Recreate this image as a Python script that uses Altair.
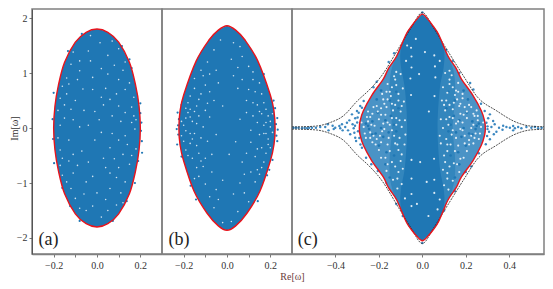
import altair as alt
import pandas as pd

SERIF = "Liberation Serif"
BLUE = "#1f77b4"

# Boundary curves: rows run from the top tip to the bottom tip
a_y = [1.80, 1.74, 1.56, 1.19, 0.78, 0.40, 0.0, -0.40, -0.78, -1.19, -1.56, -1.74, -1.80]
a_r = [0.0, 0.05, 0.10, 0.15, 0.178, 0.194, 0.20, 0.194, 0.178, 0.15, 0.10, 0.05, 0.0]

b_y = [1.86, 1.78, 1.60, 1.22, 0.60, 0.30, 0.0, -0.30, -0.60, -1.15, -1.55, -1.78, -1.86]
b_r = [0.0, 0.04, 0.083, 0.142, 0.20, 0.217, 0.222, 0.217, 0.20, 0.152, 0.092, 0.04, 0.0]

c_y = [2.07, 1.98, 1.85, 1.70, 1.31, 1.09, 0.89, 0.60, 0.31, 0.12, 0.0,
       -0.12, -0.31, -0.60, -0.89, -1.09, -1.31, -1.70, -1.85, -1.97, -2.05]
c_r = [0.0, 0.025, 0.05, 0.075, 0.118, 0.155, 0.18, 0.232, 0.272, 0.287, 0.29,
       0.287, 0.272, 0.232, 0.18, 0.155, 0.118, 0.075, 0.05, 0.025, 0.0]

mid_y = [2.07, 1.85, 1.70, 1.31, 1.09, 0.85, 0.50, 0.0, -0.50, -0.85, -1.09, -1.31, -1.70, -1.85, -2.05]
mid_r = [0.0, 0.05, 0.075, 0.118, 0.14, 0.15, 0.15, 0.14, 0.15, 0.15, 0.14, 0.118, 0.075, 0.05, 0.0]

core_y = [2.07, 1.85, 1.70, 1.40, 1.10, 0.70, 0.0, -0.70, -1.10, -1.40, -1.70, -1.85, -2.05]
core_r = [0.0, 0.05, 0.075, 0.10, 0.098, 0.08, 0.07, 0.08, 0.098, 0.10, 0.075, 0.05, 0.0]

env_x = [-0.60, -0.56, -0.487, -0.424, -0.364, -0.30, -0.24, -0.195, -0.103, -0.05, 0.0,
         0.05, 0.103, 0.195, 0.25, 0.343, 0.435, 0.496, 0.55, 0.60]
env_y = [0.02, 0.022, 0.036, 0.10, 0.22, 0.49, 0.71, 0.91, 1.49, 1.83, 2.10,
         1.83, 1.49, 0.91, 0.58, 0.31, 0.10, 0.036, 0.024, 0.02]

# Points sitting on or beyond the boundary
a_out = [(-0.20, 0.64), (-0.134, 1.40), (0.20, 0.27), (0.16, 1.09), (0.115, 1.49), (0.207, -0.24),
         (-0.205, 0.16), (-0.198, -0.64), (0.19, -0.60), (-0.16, -1.09), (-0.124, -1.42),
         (-0.08, -1.69), (0.073, -1.69), (0.137, -1.33), (0.175, -1.00), (0.205, 0.10),
         (0.203, -0.05), (-0.203, -0.20), (0.208, -0.45), (-0.07, 1.71), (0.15, 1.25), (0.20, 0.45)]
b_out = [(-0.228, 0.28), (-0.222, 0.16), (-0.226, 0.05), (-0.232, -0.02), (-0.225, -0.12),
         (-0.23, -0.30), (-0.21, 0.42), (0.222, 0.36), (0.232, 0.18), (0.226, 0.07), (0.234, -0.03),
         (0.228, -0.14), (0.232, -0.24), (0.215, 0.50), (0.21, -0.58), (0.195, -0.76),
         (-0.168, -1.05), (-0.143, -1.30), (0.142, -1.33), (0.185, -0.86), (-0.21, -0.52), (0.17, 0.98)]
c_out = [(-0.593, 0.006), (-0.582, 0.006), (-0.57, 0.006), (-0.554, -0.006), (-0.542, 0.006),
         (-0.531, -0.006), (-0.521, 0.006), (-0.508, 0.006), (-0.49, 0.006), (-0.47, 0.018),
         (-0.447, 0.018), (-0.435, 0.067), (-0.432, -0.043), (-0.413, 0.042), (-0.408, -0.018),
         (-0.401, 0.006), (-0.382, 0.036), (-0.378, -0.006), (-0.37, 0.067), (-0.367, -0.043),
         (-0.355, 0.018), (-0.347, 0.097), (-0.342, -0.043), (-0.336, 0.139), (-0.332, -0.115),
         (-0.324, 0.248), (-0.321, 0.067), (-0.316, -0.006), (-0.313, -0.085), (-0.309, 0.176),
         (-0.309, -0.176), (-0.301, 0.309), (-0.305, -0.236), (-0.293, 0.279), (-0.286, 0.40),
         (-0.278, 0.37), (-0.27, 0.491), (-0.278, -0.358), (-0.259, -0.54), (-0.30, 0.10),
         (-0.296, -0.06), (-0.31, 0.04), (-0.298, 0.19), (-0.29, -0.18), (-0.285, -0.30),
         (0.595, 0.006), (0.584, 0.006), (0.564, 0.018), (0.549, 0.006), (0.533, -0.006),
         (0.518, 0.018), (0.502, 0.006), (0.479, 0.018), (0.456, -0.006), (0.441, 0.018),
         (0.426, -0.006), (0.418, 0.036), (0.418, -0.043), (0.403, 0.006), (0.387, 0.018),
         (0.372, 0.042), (0.369, -0.03), (0.353, 0.006), (0.341, -0.067), (0.333, 0.067),
         (0.326, 0.127), (0.329, -0.115), (0.318, 0.018), (0.311, 0.248), (0.311, -0.206),
         (0.303, 0.176), (0.307, -0.067), (0.295, 0.097), (0.298, -0.145), (0.287, 0.309),
         (0.292, -0.297), (0.30, 0.03), (0.30, -0.02), (0.27, 0.44), (0.26, -0.46),
         (0.235, 0.70), (0.22, 0.82), (-0.225, 0.74), (-0.21, 0.84), (-0.155, 1.20), (-0.13, 1.36),
         (0.11, 1.42), (0.14, 1.22), (0.17, 1.0), (-0.165, -1.0), (-0.205, -0.78), (-0.235, -0.66),
         (0.20, -0.80), (0.225, -0.70), (0.15, -1.15), (-0.12, -1.38), (0.10, -1.50), (-0.09, -1.60),
         (0.0, 2.10), (0.0, -2.09)]

# Pale specks inside the clouds
a_gaps = [(-0.065, 0.71), (-0.14, 0.91), (0.014, 1.55), (-0.08, 1.22), (0.05, 1.32), (0.12, 1.05),
          (0.09, 0.62), (-0.02, 0.92), (-0.15, 0.42), (0.16, 0.38), (0.03, 0.42), (-0.11, 0.15),
          (0.11, 0.12), (-0.17, 0.05), (0.175, -0.02), (-0.04, 0.05), (0.07, -0.10), (-0.13, -0.22),
          (0.14, -0.30), (-0.07, -0.42), (0.03, -0.55), (-0.16, -0.55), (0.15, -0.66), (-0.02, -0.88),
          (-0.11, -0.82), (0.09, -0.90), (-0.06, -1.20), (0.04, -1.30), (-0.10, -1.28), (0.11, -1.18),
          (0.02, -1.62), (-0.03, 1.68), (0.10, 1.44), (-0.11, 1.38), (-0.16, 0.76), (0.15, 0.82),
          (0.18, 0.15), (-0.18, -0.18), (0.18, -0.38), (0.07, 0.22), (-0.06, 0.32), (0.01, 0.15),
          (-0.09, -0.68), (0.06, -0.36), (0.12, -0.48), (-0.14, 0.62), (0.02, 1.08), (-0.04, 1.40),
          (0.07, 1.58), (-0.14, -0.98), (0.13, -0.98), (0.05, -1.50), (-0.05, -1.50), (-0.17, -0.40),
          (0.17, 0.56), (-0.01, -0.22), (0.10, 0.40), (-0.10, 0.50), (0.04, 0.72), (0.04, -0.72),
          (-0.12, 1.16), (0.08, 1.14), (-0.03, 1.22), (0.13, 0.70), (-0.09, 0.88), (0.16, 0.10),
          (-0.15, 0.18), (0.10, -0.22), (-0.04, -0.62), (0.16, -0.50), (-0.13, -0.60), (0.06, -1.10),
          (-0.02, -1.42), (0.10, -0.72), (-0.16, -0.86), (0.12, -1.36), (-0.08, -1.46), (0.02, 0.56),
          (-0.18, 0.32), (-0.12, 0.34), (-0.08, 0.02), (0.02, -0.08), (0.13, 0.28), (0.17, 0.22),
          (-0.17, -0.68), (-0.11, -0.48), (0.08, -0.56), (0.13, -0.14), (-0.05, -0.98), (0.06, -0.82),
          (0.10, 0.88), (-0.13, 0.80), (0.05, 0.98), (-0.08, 1.04), (0.13, 1.20), (-0.02, 0.70),
          (0.00, -1.18), (0.09, -1.40), (-0.12, -1.10), (-0.01, 0.30), (0.06, 0.52), (-0.17, 0.54)]
b_gaps = [(-0.18, 0.28), (-0.16, 0.12), (-0.15, -0.10), (-0.19, -0.05), (-0.17, -0.28), (-0.20, 0.05),
          (-0.14, 0.40), (-0.12, 0.62), (-0.15, 0.72), (-0.11, 0.95), (-0.13, -0.46), (-0.16, -0.55),
          (-0.11, -0.70), (-0.13, -0.88), (-0.10, -1.02), (-0.08, -1.25), (-0.06, -1.45), (-0.09, 1.20),
          (-0.06, 1.42), (-0.03, 1.60), (0.03, 1.55), (0.07, 1.30), (0.10, 1.12), (0.12, 0.88),
          (0.16, 0.62), (0.14, 0.42), (0.18, 0.34), (0.20, 0.12), (0.17, 0.05), (0.15, -0.12),
          (0.19, -0.20), (0.16, -0.36), (0.13, -0.52), (0.17, -0.62), (0.11, -0.80), (0.13, -0.98),
          (0.08, -1.18), (0.10, -1.34), (0.05, -1.52), (0.02, -1.70), (-0.02, -1.72), (-0.08, 0.20),
          (-0.05, -0.12), (0.06, 0.16), (0.04, -0.25), (-0.09, 0.45), (0.09, 0.50), (-0.04, 0.82),
          (0.03, 0.95), (-0.07, -0.48), (0.07, -0.62), (-0.02, -0.95), (0.02, 1.25), (-0.02, 0.40),
          (-0.11, 0.02), (0.11, -0.04), (-0.18, 0.46), (0.18, -0.46), (-0.07, -0.80), (-0.19, 0.18),
          (0.19, 0.22), (-0.17, 0.58), (0.15, 0.82), (-0.14, -0.72), (0.09, 0.28), (-0.12, -0.18),
          (0.12, 0.22), (0.13, 0.66), (-0.10, 0.78), (0.05, 0.72), (-0.05, 1.05), (0.06, -1.00),
          (-0.05, -1.12), (0.01, -0.48), (0.14, -0.76), (-0.15, 0.90), (0.21, -0.08), (-0.21, -0.14),
          (0.12, 1.02), (-0.12, 1.05), (-0.19, -0.40), (0.20, -0.36), (-0.17, 0.34), (-0.21, 0.12),
          (-0.14, 0.08), (-0.16, -0.20), (0.14, 0.10), (0.17, -0.10), (0.20, 0.02), (0.16, 0.26),
          (-0.19, 0.36), (-0.13, 0.22), (0.19, -0.30), (-0.18, -0.50), (0.15, -0.84), (-0.12, -0.60),
          (-0.20, -0.24), (-0.17, 0.20), (-0.15, 0.30), (-0.13, 0.52), (-0.10, 0.32), (-0.08, 0.66),
          (-0.06, 0.50), (-0.09, -0.24), (-0.14, -0.32), (-0.10, -0.55), (-0.15, -0.92), (0.21, 0.26),
          (0.18, 0.10), (0.15, 0.30), (0.12, 0.46), (0.10, 0.70), (0.07, 0.88), (0.11, -0.26),
          (0.14, -0.38), (0.09, -0.46), (0.18, -0.10), (0.16, -0.72), (0.05, 1.10), (-0.08, 0.98),
          (0.08, -0.84), (-0.04, -1.30), (0.03, -1.20), (0.17, 0.46), (-0.17, -0.10), (0.06, 1.48)]
c_gaps = [(-0.27, 0.02), (-0.25, 0.12), (-0.24, -0.08), (-0.23, 0.26), (-0.22, 0.04), (-0.21, -0.20),
          (-0.20, 0.16), (-0.19, 0.36), (-0.185, -0.06), (-0.17, 0.24), (-0.16, -0.30), (-0.15, 0.06),
          (-0.14, 0.44), (-0.13, -0.14), (-0.12, 0.18), (-0.11, -0.40), (-0.10, 0.30), (-0.095, 0.02),
          (-0.26, -0.18), (-0.25, 0.30), (-0.21, 0.40), (-0.20, -0.40), (-0.18, 0.52), (-0.17, -0.54),
          (-0.15, 0.66), (-0.14, -0.62), (-0.12, 0.78), (-0.11, -0.80), (-0.10, 0.98), (-0.095, -1.02),
          (-0.16, 0.80), (-0.13, 0.94), (-0.165, -0.78), (-0.135, -0.94), (-0.11, 0.62), (-0.10, -0.60),
          (-0.085, 0.48), (-0.082, -0.30), (-0.08, 0.14), (-0.078, -0.12), (-0.09, 0.72), (-0.09, -0.74),
          (-0.055, 0.90), (-0.05, 1.10), (-0.05, 1.30), (-0.052, 1.46), (-0.05, -0.92), (-0.05, -1.20),
          (-0.05, -1.42), (-0.052, 0.60), (-0.05, -0.58), (-0.16, 0.10), (-0.18, 0.08), (-0.135, 0.32),
          (-0.24, 0.20), (-0.23, -0.26), (-0.19, -0.26), (-0.125, -0.28), (-0.145, 0.58), (-0.165, 0.38),
          (-0.105, 0.14), (-0.105, -0.18), (-0.095, 0.40), (-0.095, -0.48), (-0.12, 1.02), (-0.115, -1.10),
          (0.27, 0.02), (0.255, 0.14), (0.245, -0.10), (0.235, 0.26), (0.225, 0.00), (0.215, -0.22),
          (0.205, 0.18), (0.195, 0.38), (0.185, -0.04), (0.175, 0.26), (0.165, -0.32), (0.155, 0.08),
          (0.145, 0.46), (0.135, -0.12), (0.125, 0.20), (0.115, -0.42), (0.105, 0.32), (0.095, 0.00),
          (0.26, -0.20), (0.25, 0.32), (0.215, 0.42), (0.205, -0.42), (0.185, 0.54), (0.175, -0.56),
          (0.155, 0.68), (0.145, -0.64), (0.125, 0.80), (0.115, -0.82), (0.105, 1.00), (0.10, -1.04),
          (0.165, 0.82), (0.135, 0.96), (0.17, -0.80), (0.14, -0.96), (0.115, 0.64), (0.105, -0.62),
          (0.09, 0.50), (0.085, -0.28), (0.085, 0.16), (0.08, -0.14), (0.095, 0.74), (0.095, -0.76),
          (0.06, 0.92), (0.058, 1.12), (0.055, 1.32), (0.055, -0.94), (0.055, -1.18), (0.056, 0.58),
          (0.054, -0.56), (0.165, 0.12), (0.185, 0.10), (0.14, 0.34), (0.24, 0.22), (0.235, -0.28),
          (0.195, -0.28), (0.13, -0.30), (0.15, 0.60), (0.17, 0.40), (0.11, 0.16), (0.11, -0.20),
          (0.10, 0.42), (0.10, -0.50), (0.125, 1.04), (0.12, -1.12), (-0.01, -0.62), (0.02, -0.98),
          (-0.015, 0.98), (0.012, 1.38), (-0.025, -1.38), (0.03, 0.30), (-0.03, 1.62), (0.028, -1.60),
          (-0.075, 1.22), (0.08, 1.22), (-0.08, -1.28), (0.08, -1.30), (-0.07, 1.50), (0.07, -1.48),
          (-0.28, 0.10), (-0.265, -0.10), (-0.255, 0.20), (-0.235, 0.06), (-0.225, 0.38), (-0.225, -0.14),
          (-0.205, 0.30), (-0.195, -0.14), (-0.19, 0.24), (-0.175, -0.02), (-0.175, 0.44), (-0.16, 0.52),
          (-0.155, -0.18), (-0.15, -0.42), (-0.14, 0.18), (-0.14, -0.04), (-0.125, 0.42), (-0.12, 0.06),
          (-0.115, -0.30), (-0.11, 0.50), (-0.185, 0.62), (-0.165, 0.66), (-0.14, 0.74), (-0.125, 0.88),
          (-0.19, -0.54), (-0.16, -0.66), (-0.125, -0.70), (-0.115, -0.92), (-0.215, -0.30), (-0.24, -0.18),
          (0.28, 0.10), (0.265, -0.10), (0.255, 0.22), (0.235, 0.06), (0.225, 0.38), (0.225, -0.14),
          (0.205, 0.30), (0.195, -0.14), (0.19, 0.24), (0.175, -0.02), (0.175, 0.44), (0.16, 0.52),
          (0.155, -0.18), (0.15, -0.42), (0.14, 0.18), (0.14, -0.04), (0.125, 0.42), (0.12, 0.06),
          (0.115, -0.30), (0.11, 0.50), (0.185, 0.62), (0.165, 0.66), (0.14, 0.74), (0.125, 0.88),
          (0.19, -0.54), (0.16, -0.66), (0.125, -0.70), (0.115, -0.92), (0.215, -0.30), (0.24, -0.18)]

# Darker grains inside the pale band of panel (c)
c_dark = [(-0.26, 0.08), (-0.245, -0.02), (-0.23, 0.12), (-0.215, -0.10), (-0.205, 0.28), (-0.19, 0.00),
          (-0.18, -0.16), (-0.17, 0.14), (-0.155, -0.08), (-0.145, 0.22), (-0.13, 0.06), (-0.12, -0.06),
          (-0.11, 0.36), (-0.21, 0.52), (-0.19, 0.68), (-0.17, -0.66), (-0.15, 0.50), (-0.13, -0.50),
          (-0.12, 0.66), (-0.15, -0.90), (-0.23, -0.12), (-0.25, 0.04), (-0.2, -0.32), (-0.165, -0.44),
          (0.26, 0.08), (0.245, -0.02), (0.23, 0.12), (0.215, -0.10), (0.205, 0.28), (0.19, 0.00),
          (0.18, -0.16), (0.17, 0.14), (0.155, -0.08), (0.145, 0.22), (0.13, 0.06), (0.12, -0.06),
          (0.11, 0.36), (0.21, 0.52), (0.19, 0.68), (0.17, -0.66), (0.15, 0.50), (0.13, -0.50),
          (0.12, 0.66), (0.15, -0.90), (0.23, -0.12), (0.25, 0.04), (0.2, -0.32), (0.165, -0.44)]

Y_DOMAIN = [-2.291, 2.164]
Y_TICKS = [2, 1, 0, -1, -2]
A_TICKS = [-0.2, -0.1, 0.0, 0.1, 0.2]
C_TICKS = [-0.4, -0.2, 0.0, 0.2, 0.4]


def pts(pairs):
    return pd.DataFrame(pairs, columns=["x", "y"])


def band(ys, rs):
    return pd.DataFrame({"y": ys, "l": [-r for r in rs], "r": rs})


def ring(ys, rs):
    right = [{"x": r, "y": y} for r, y in zip(rs, ys)]
    left = [{"x": -r, "y": y} for r, y in zip(rs[-2:0:-1], ys[-2:0:-1])]
    rows = right + left
    for i, row in enumerate(rows):
        row["o"] = i
    return pd.DataFrame(rows)


def panel(width, xdom, tag, tag_x, layers, yaxis, xaxis):
    xs = alt.Scale(domain=xdom, nice=False, zero=False)
    ys = alt.Scale(domain=Y_DOMAIN, nice=False, zero=False)
    X = alt.X("x:Q", scale=xs, axis=xaxis)
    Y = alt.Y("y:Q", scale=ys, axis=yaxis)

    def area(df, color, opacity=1.0):
        return alt.Chart(df).mark_area(interpolate="cardinal", orient="horizontal", color=color,
                                       opacity=opacity, clip=True).encode(
            x=alt.X("l:Q", scale=xs, axis=xaxis), x2="r:Q", y=Y)

    def dots(df, color, size, opacity=1.0):
        return alt.Chart(df).mark_circle(color=color, size=size, opacity=opacity, clip=True).encode(x=X, y=Y)

    def outline(df):
        return alt.Chart(df).mark_line(interpolate="cardinal-closed", color="#e8141c", strokeWidth=1.4,
                                       clip=True).encode(x=X, y=Y, order="o:Q")

    charts = layers(area, dots, outline, X, Y)
    label = alt.Chart(pd.DataFrame({"x": [tag_x], "y": [-2.03], "t": [tag]})).mark_text(
        font=SERIF, fontSize=18, align="left", baseline="middle", color="#222222").encode(x=X, y=Y, text="t:N")
    return alt.layer(*charts, label).properties(width=width, height=245)


def x_axis(values, labeled, **kw):
    cond = " || ".join(f"abs(datum.value - ({v})) < 0.001" for v in labeled)
    return alt.Axis(values=values, grid=False, title=kw.pop("title", None), labelFont=SERIF, labelFontSize=10,
                    labelColor="#333333", tickColor="#555555", tickSize=3, tickWidth=0.8,
                    domainColor="#808080", domainWidth=1.5, labelPadding=3, format=".1f", labelOverlap=False,
                    labelExpr=f"({cond}) ? replace(format(datum.value, '.1f'), '-', '\u2212') : ''", **kw)


yaxis_a = alt.Axis(values=Y_TICKS, grid=False, title="Im[\u03c9]", titleFont=SERIF, titleFontSize=10,
                   titleFontWeight="normal", titleColor="#333333", titleX=-15, titleY=119, titleBaseline="alphabetic",
                   labelFont=SERIF, labelFontSize=10, labelColor="#333333", tickColor="#555555", tickSize=3,
                   tickWidth=0.8, domainColor="#555555", domainWidth=1, labelPadding=2,
                   labelExpr="replace(format(datum.value, 'd'), '-', '\u2212')")


def layers_a(area, dots, outline, X, Y):
    return [area(band(a_y, a_r), BLUE), dots(pts(a_out), BLUE, 5), dots(pts(a_gaps), "#cfe2f0", 2.5),
            outline(ring(a_y, a_r))]


def layers_b(area, dots, outline, X, Y):
    return [area(band(b_y, b_r), BLUE), dots(pts(b_out), BLUE, 5), dots(pts(b_gaps), "#cfe2f0", 2.5),
            outline(ring(b_y, b_r))]


def layers_c(area, dots, outline, X, Y):
    env = alt.Chart(pd.DataFrame({"x": env_x + env_x, "y": env_y + [-v for v in env_y],
                                  "s": ["u"] * len(env_x) + ["d"] * len(env_x)})).mark_line(
        interpolate="monotone", color="#222222", strokeWidth=0.8, strokeDash=[2, 1], clip=True).encode(
        x=X, y=Y, detail="s:N")
    return [area(band(c_y, c_r), "#4a93c6"), area(band(mid_y, mid_r), "#3386bd"), area(band(core_y, core_r), BLUE),
            dots(pts(c_dark), BLUE, 7), dots(pts(c_gaps), "#ffffff", 4.5, 0.85), dots(pts(c_out), "#3b87c0", 6),
            env, outline(ring(c_y, c_r))]


pa = panel(130, [-0.3, 0.3], "(a)", -0.27, layers_a, yaxis_a, x_axis(A_TICKS, [-0.2, 0, 0.2]))
pb = panel(130, [-0.3, 0.3], "(b)", -0.27, layers_b, None,
           x_axis(A_TICKS, [-0.2, 0, 0.2], title="Re[\u03c9]", titleFont=SERIF, titleFontSize=10,
                  titleFontWeight="normal", titleColor="#6b3b3b", titleX=130, titleY=27, titleBaseline="bottom"))
pc = panel(252, [-0.6, 0.56], "(c)", -0.573, layers_c, None, x_axis(C_TICKS, C_TICKS))

chart = alt.hconcat(pa, pb, pc, spacing=0, bounds="flush").properties(padding=0).configure_view(
    stroke="#808080", strokeWidth=1.5).configure_concat(spacing=0)

chart.save("out.html", embed_options={"renderer": "svg", "actions": False})
